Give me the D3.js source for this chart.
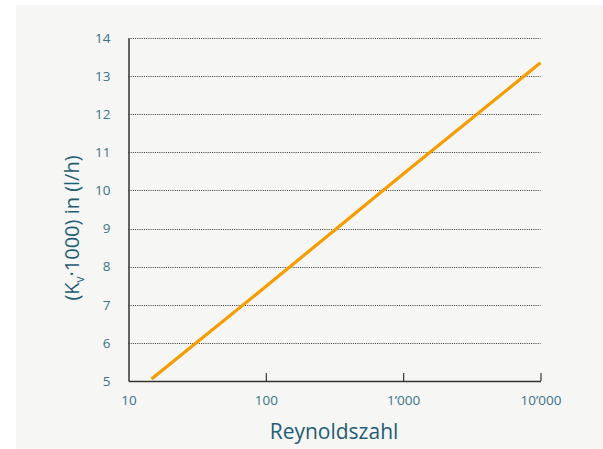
<!DOCTYPE html>
<html><head><meta charset="utf-8">
<script src="https://cdn.jsdelivr.net/npm/d3@7"></script>
<style>body{margin:0;background:#fff}svg{display:block}</style>
</head><body>
<script>
const reynolds = [14.7, 100, 1000, 10000];
const kv = [5.05, 7.48, 10.43, 13.35];
const xTicks = [10, 100, 1000, 10000];
const xTickLabels = ["10", "100", "1\u2019000", "10\u2019000"];
const yTicks = [5, 6, 7, 8, 9, 10, 11, 12, 13, 14];

const W = 603, H = 449;
const svg = d3.select("body").append("svg").attr("width", W).attr("height", H);
svg.append("rect").attr("x", 16).attr("y", 5).attr("width", W - 16).attr("height", H - 5).attr("fill", "#f6f6f4");

const x = d3.scaleLog().domain([10, 10000]).range([128.5, 540.5]);
const y = d3.scaleLinear().domain([5, 14]).range([381, 38]);
const font = "'Open Sans', 'Noto Sans', sans-serif";

// grid
svg.append("g").selectAll("line").data(yTicks.filter(d => d > 5)).join("line")
  .attr("x1", x(10)).attr("x2", x(10000))
  .attr("y1", d => Math.round(y(d)) + 0.5).attr("y2", d => Math.round(y(d)) + 0.5)
  .attr("stroke", "#333").attr("stroke-width", 1).attr("stroke-dasharray", "1,1.2");

// y axis
const yAxis = svg.append("g").attr("transform", `translate(${x(10)},0)`)
  .call(d3.axisLeft(y).tickValues(yTicks).tickSize(0).tickPadding(18));
yAxis.select(".domain").attr("stroke", "#333").attr("stroke-width", 1.5);
yAxis.selectAll("text").attr("font-family", font).attr("font-size", 13.5).attr("fill", "#3a7388");

// x axis
const xAxis = svg.append("g").attr("transform", `translate(0,${y(5)})`)
  .call(d3.axisBottom(x).tickValues(xTicks).tickFormat((d, i) => xTickLabels[i]).tickSizeInner(-8).tickSizeOuter(0).tickPadding(14));
xAxis.select(".domain").attr("stroke", "#333").attr("stroke-width", 1.5);
xAxis.selectAll(".tick line").attr("stroke", "#333").attr("stroke-width", 1.2);
xAxis.selectAll(".tick").filter(d => d === 10).select("line").remove();
xAxis.selectAll("text").attr("font-family", font).attr("font-size", 13.5).attr("fill", "#3a7388");

// line
svg.append("path").datum(reynolds.map((r, i) => [r, kv[i]]))
  .attr("d", d3.line().x(d => x(d[0])).y(d => y(d[1])))
  .attr("fill", "none").attr("stroke", "#f59c00").attr("stroke-width", 3.2);

// labels
svg.append("text").attr("x", 334).attr("y", 439).attr("text-anchor", "middle")
  .attr("font-family", font).attr("font-size", 21).attr("fill", "#1f5d74").text("Reynoldszahl");
const yl = svg.append("text").attr("transform", "translate(79,228) rotate(-90)").attr("text-anchor", "middle")
  .attr("font-family", font).attr("font-size", 20).attr("fill", "#1f5d74");
yl.append("tspan").text("(K");
yl.append("tspan").attr("font-size", 12).attr("dy", 5).text("v");
yl.append("tspan").attr("dy", -5).text("\u00b71000) in (l/h)");
</script>
</body></html>
